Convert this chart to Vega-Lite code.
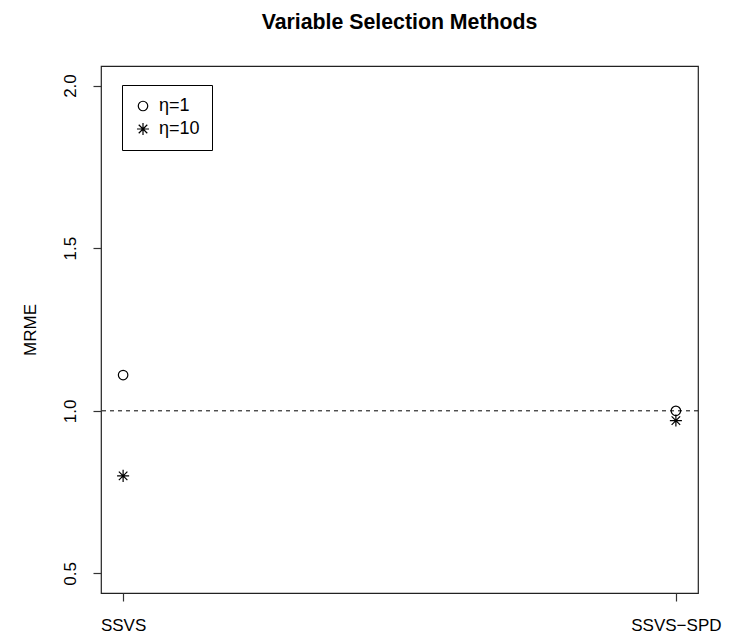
{
  "$schema": "https://vega.github.io/schema/vega-lite/v6.json",
  "width": 597,
  "height": 527,
  "autosize": {"type": "none"},
  "padding": {"left": 101, "top": 66, "right": 31, "bottom": 44},
  "background": "white",
  "title": {
    "text": "Variable Selection Methods",
    "font": "Liberation Sans",
    "fontSize": 21.3,
    "fontWeight": "bold",
    "color": "black",
    "anchor": "middle",
    "frame": "group",
    "baseline": "alphabetic",
    "offset": 16
  },
  "config": {
    "view": {"stroke": "#222", "strokeWidth": 1.2},
    "font": "Liberation Sans"
  },
  "datasets": {
    "points": [
      {"pos": 1, "method": "SSVS", "eta": "η=1", "mrme": 1.11},
      {"pos": 1, "method": "SSVS", "eta": "η=10", "mrme": 0.80},
      {"pos": 2, "method": "SSVS-SPD", "eta": "η=1", "mrme": 1.0},
      {"pos": 2, "method": "SSVS-SPD", "eta": "η=10", "mrme": 0.97}
    ],
    "ref": [{"y": 1}]
  },
  "layer": [
    {
      "data": {"name": "ref"},
      "mark": {"type": "rule", "strokeDash": [4, 4], "color": "black", "strokeWidth": 1},
      "encoding": {
        "y": {"field": "y", "type": "quantitative", "scale": {"domain": [0.44, 2.06], "nice": false, "zero": false}}
      }
    },
    {
      "data": {"name": "points"},
      "mark": {"type": "point", "filled": false, "strokeWidth": 1.2, "opacity": 1, "size": 90},
      "encoding": {
        "x": {
          "field": "pos",
          "type": "quantitative",
          "scale": {"domain": [0.96, 2.04], "nice": false, "zero": false},
          "axis": {
            "title": null,
            "values": [1, 2],
            "labelExpr": "datum.value == 1 ? 'SSVS' : 'SSVS−SPD'",
            "grid": false,
            "domain": false,
            "tickSize": 8,
            "tickColor": "#333",
            "tickWidth": 1.2,
            "labelFontSize": 17,
            "labelColor": "black",
            "labelPadding": 16,
            "labelFlush": false
          }
        },
        "y": {
          "field": "mrme",
          "type": "quantitative",
          "scale": {"domain": [0.44, 2.06], "nice": false, "zero": false},
          "axis": {
            "title": "MRME",
            "values": [0.5, 1.0, 1.5, 2.0],
            "format": ".1f",
            "grid": false,
            "domain": false,
            "tickSize": 8,
            "tickColor": "#333",
            "tickWidth": 1.2,
            "labelAngle": -90,
            "labelAlign": "center",
            "labelBaseline": "bottom",
            "labelFontSize": 17,
            "labelColor": "black",
            "labelPadding": 14,
            "titleFontSize": 17,
            "titleFontWeight": "normal",
            "titleColor": "black",
            "titlePadding": 22
          }
        },
        "shape": {
          "field": "eta",
          "type": "nominal",
          "scale": {
            "domain": ["η=1", "η=10"],
            "range": ["circle", "M-1.27,0L1.27,0M0,-1.27L0,1.27M-0.9,-0.9L0.9,0.9M-0.9,0.9L0.9,-0.9"]
          },
          "legend": {
            "title": null,
            "orient": "none",
            "legendX": 21,
            "legendY": 19,
            "strokeColor": "black",
            "padding": 12,
            "rowPadding": 5,
            "labelFontSize": 18,
            "labelColor": "black",
            "labelOffset": 7,
            "symbolStrokeColor": "black",
            "symbolStrokeWidth": 1.2,
            "symbolFillColor": "transparent",
            "symbolSize": 90,
            "labelExpr": "datum.label + ' '"
          }
        },
        "color": {"value": "black"}
      }
    }
  ]
}
